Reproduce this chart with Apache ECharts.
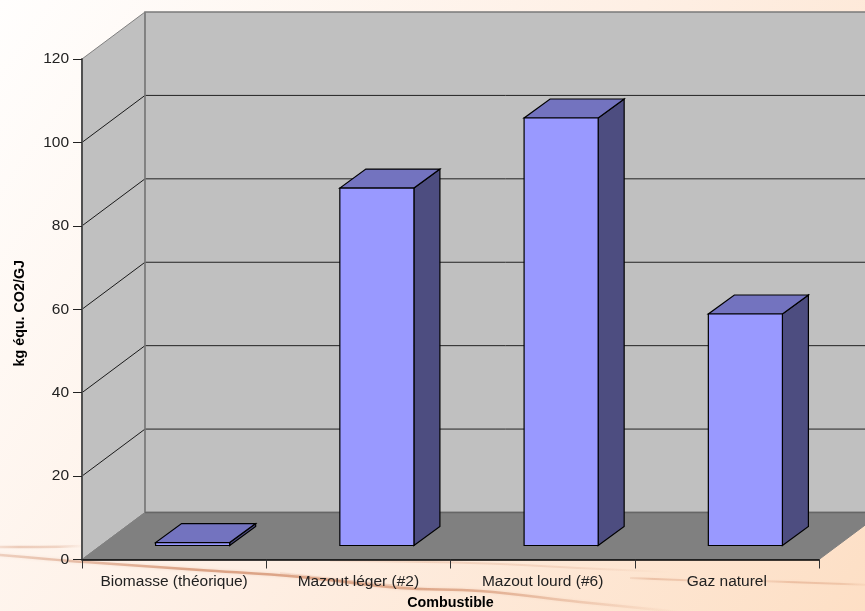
<!DOCTYPE html>
<html><head><meta charset="utf-8">
<style>html,body{margin:0;padding:0;background:#fff}#c{width:865px;height:611px}</style>
<script src="https://cdn.jsdelivr.net/npm/echarts@6/dist/echarts.min.js"></script>
</head><body><div id="c"></div>
<script>
const categories = ['Biomasse (théorique)', 'Mazout léger (#2)', 'Mazout lourd (#6)', 'Gaz naturel'];
const values = [0.7, 85.7, 102.5, 55.5];
const yTicks = [0, 20, 40, 60, 80, 100, 120];
const xTitle = 'Combustible';
const yTitle = 'kg équ. CO2/GJ';

const wallDepth = [63, -47];
const barDepth = [26, -19];
const barInset = [18.5, -14];
const barShare = 0.402;

const chart = echarts.init(document.getElementById('c'), null, {renderer: 'canvas'});

function poly(pts, fill, stroke, w) {
  return {type: 'polygon', shape: {points: pts}, style: {fill: fill, stroke: stroke || null, lineWidth: w || 0}};
}
function seg(a, b, stroke, w) {
  return {type: 'line', shape: {x1: a[0], y1: a[1], x2: b[0], y2: b[1]}, style: {stroke: stroke, lineWidth: w}};
}
function tint(a) { return 'rgba(200,120,80,' + a + ')'; }
function streak(pts, peak, w) {
  const x0 = pts[0][0], x1 = pts[pts.length - 1][0];
  return {type: 'polyline', silent: true, z: -10,
    shape: {points: pts, smooth: 0.4},
    style: {
      fill: null, lineWidth: w, shadowBlur: 3, shadowColor: tint(peak * 0.6),
      stroke: {type: 'linear', global: true, x: x0, y: 0, x2: x1, y2: 0, colorStops: [
        {offset: 0, color: tint(peak * 0.4)}, {offset: 0.3, color: tint(peak)},
        {offset: 0.7, color: tint(peak * 0.8)}, {offset: 1, color: tint(0)}]}
    }};
}

function renderWalls(params, api) {
  const cs = params.coordSys;
  const dx = wallDepth[0], dy = wallDepth[1];
  const L = cs.x, R = cs.x + cs.width, B = cs.y + cs.height, T = cs.y;
  const kids = [
    poly([[L, T], [L + dx, T + dy], [L + dx, B + dy], [L, B]], '#c0c0c0', '#808080', 1),
    poly([[L + dx, T + dy], [R + dx, T + dy], [R + dx, B + dy], [L + dx, B + dy]], '#c0c0c0', '#7a7a7a', 1.5),
    poly([[L, B], [R, B], [R + dx, B + dy], [L + dx, B + dy]], '#808080', '#808080', 1)
  ];
  yTicks.forEach(function (t) {
    if (t === 0 || t === 120) return;
    const y = api.coord([0, t])[1];
    kids.push(seg([L, y], [L + dx, y + dy], '#1a1a1a', 1));
    kids.push(seg([L + dx, y + dy], [R + dx, y + dy], '#222222', 1));
  });
  kids.push(seg([L + dx, T + dy], [L + dx, B + dy], '#808080', 1.5));
  kids.push(seg([L + dx, B + dy], [R + dx, B + dy], '#666666', 1.5));
  return {type: 'group', children: kids};
}

function renderBar(params, api) {
  const c = api.coord([api.value(0), 0]);
  const t = api.coord([api.value(0), api.value(1)]);
  const w = api.size([1, 0])[0] * barShare;
  const x0 = c[0] - w / 2 + barInset[0], x1 = x0 + w;
  const yb = c[1] + barInset[1], yt = t[1] + barInset[1];
  const dx = barDepth[0], dy = barDepth[1];
  return {type: 'group', children: [
    poly([[x1, yb], [x1 + dx, yb + dy], [x1 + dx, yt + dy], [x1, yt]], '#4d4d80', '#000', 1.2),
    poly([[x0, yt], [x1, yt], [x1 + dx, yt + dy], [x0 + dx, yt + dy]], '#7373bf', '#000', 1.2),
    poly([[x0, yb], [x1, yb], [x1, yt], [x0, yt]], '#9999ff', '#000', 1.2)
  ]};
}

const textStyle = {fontFamily: '"Liberation Sans", Arial, sans-serif', fontSize: 15.5, color: '#222'};
const titleStyle = {fontFamily: '"Liberation Sans", Arial, sans-serif', fontSize: 14.3, fontWeight: 'bold', color: '#000'};

chart.setOption({
  animation: false,
  backgroundColor: {type: 'linear', x: 0, y: 0, x2: 1, y2: 1, colorStops: [
    {offset: 0, color: '#fffefd'}, {offset: 0.5, color: '#feefe4'}, {offset: 1, color: '#fddfc5'}]},
  graphic: {elements: [
    streak([[-10, 554], [85, 562], [200, 570], [300, 577], [400, 588], [480, 591], [580, 602], [680, 612]], 0.6, 2.5),
    streak([[-10, 547], [40, 547], [85, 546]], 0.3, 2.5),
    streak([[280, 573], [350, 581], [440, 590]], 0.25, 2),
    streak([[330, 561], [470, 563], [600, 569], [670, 572]], 0.2, 2),
    streak([[630, 578], [705, 581]], 0.3, 2),
    streak([[760, 581], [875, 585]], 0.3, 2)
  ]},
  grid: {left: 82, top: 59, width: 737, height: 500.5, outerBoundsMode: 'none'},
  xAxis: {
    type: 'category', data: categories, z: 6,
    name: xTitle, nameLocation: 'middle', nameGap: 37, nameTextStyle: titleStyle,
    axisLine: {lineStyle: {color: '#000', width: 1.5}},
    axisTick: {show: true, length: 9, alignWithLabel: false, lineStyle: {color: '#333', width: 1}},
    axisLabel: Object.assign({margin: 14, interval: 0}, textStyle),
    splitLine: {show: false}
  },
  yAxis: {
    type: 'value', min: 0, max: 120, interval: 20, z: 6,
    name: yTitle, nameLocation: 'middle', nameGap: 55, nameRotate: 90,
    nameTextStyle: Object.assign({padding: [0, 8, 0, 0]}, titleStyle),
    axisLine: {show: true, lineStyle: {color: '#505050', width: 2}},
    axisTick: {show: true, length: 9, lineStyle: {color: '#222', width: 1}},
    axisLabel: Object.assign({margin: 13}, textStyle),
    splitLine: {show: false}
  },
  series: [
    {type: 'custom', coordinateSystem: 'cartesian2d', renderItem: renderWalls, data: [[0, 0]], clip: false, silent: true, z: 1},
    {type: 'custom', coordinateSystem: 'cartesian2d', renderItem: renderBar,
     data: values.map(function (v, i) { return [i, v]; }), encode: {x: 0, y: 1}, clip: false, z: 2}
  ]
});
</script></body></html>
